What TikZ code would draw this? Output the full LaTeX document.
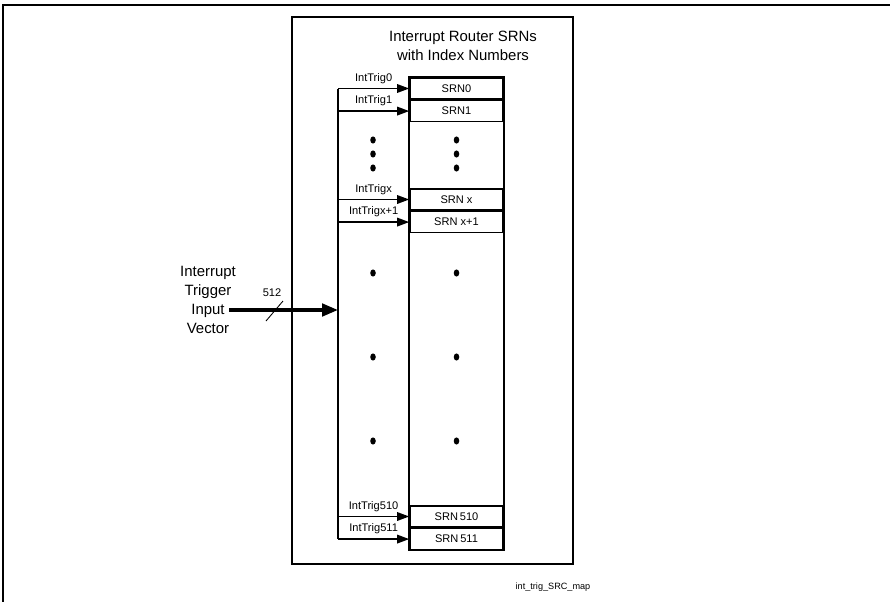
\documentclass[tikz,border=0pt]{standalone}
\usepackage{fontspec}
\setmainfont{Liberation Sans}
\usetikzlibrary{arrows.meta, positioning}

\begin{document}
\begin{tikzpicture}[x=0.02cm, y=-0.02cm,
  srnbox/.style={draw, line width=0.9pt, minimum width=1.86cm, minimum height=0.42cm, inner sep=0pt, font=\fontsize{6.3}{7}\selectfont},
  trig/.style={line width=0.9pt, -{Triangle[length=0.24cm, width=0.17cm]}},
  triglabel/.style={above, inner sep=2.4pt, font=\fontsize{6.3}{7}\selectfont},
  bigtext/.style={align=center, font=\fontsize{8.5}{10.8}\selectfont}]

	\useasboundingbox (0,0) rectangle (890,602);

	% Positions
	\def\colx{456.5}
	\def\busx{338}

	% Page frame
	\draw[line width=1.1pt] (3,602) -- (3,5) -- (890,5);

	% Router box
	\draw[line width=1.2pt] (292,17) rectangle (573,564);
	\node[bigtext] (title) at (463,46) {Interrupt Router SRNs\\with Index Numbers};

	% SRNs
	\node[srnbox] (srn0) at (\colx,88.5) {SRN0};
	\node[srnbox, below=0pt of srn0] (srn1) {SRN1};
	\node[srnbox] (srnx) at (\colx,199.5) {SRN x};
	\node[srnbox, below=0pt of srnx] (srnx1) {SRN x+1};
	\node[srnbox] (srn510) at (\colx,516.5) {SRN\,510};
	\node[srnbox, below=0pt of srn510] (srn511) {SRN\,511};

	% Column
	\draw[line width=0.9pt] (srn0.north west) rectangle (srn511.south east);

	% Dots
	\foreach \yy in {140,154,168,273,357,441} {
		\fill (373,\yy) ellipse [x radius=0.055cm, y radius=0.072cm];
		\fill (\colx,\yy) ellipse [x radius=0.055cm, y radius=0.072cm];
	}

	% Bus
	\coordinate (bus) at (\busx,310);
	\draw[line width=0.9pt] (srn0.west -| bus) -- (srn511.west -| bus);

	% Triggers
	\draw[trig] (srn0.west -| bus) -- node[triglabel] {IntTrig0} (srn0.west);
	\draw[trig] (srn1.west -| bus) -- node[triglabel] {IntTrig1} (srn1.west);
	\draw[trig] (srnx.west -| bus) -- node[triglabel] {IntTrigx} (srnx.west);
	\draw[trig] (srnx1.west -| bus) -- node[triglabel] {IntTrigx+1} (srnx1.west);
	\draw[trig] (srn510.west -| bus) -- node[triglabel] {IntTrig510} (srn510.west);
	\draw[trig] (srn511.west -| bus) -- node[triglabel] {IntTrig511} (srn511.west);

	% Input vector
	\node[bigtext] (vec) at (208,299.5) {Interrupt\\Trigger\\Input\\Vector};
	\coordinate (vin) at (229,310);
	\draw[line width=1.9pt, -{Triangle[length=0.32cm, width=0.25cm]}] (vin) -- (bus);
	\draw[line width=0.5pt] (283,301) -- (266,321);
	\node[font=\fontsize{6.3}{7}\selectfont] (width) at (272,293) {512};

	% Figure name
	\node[font=\fontsize{5.2}{6}\selectfont] (figname) at (553,587) {int\_trig\_SRC\_map};

\end{tikzpicture}
\end{document}
